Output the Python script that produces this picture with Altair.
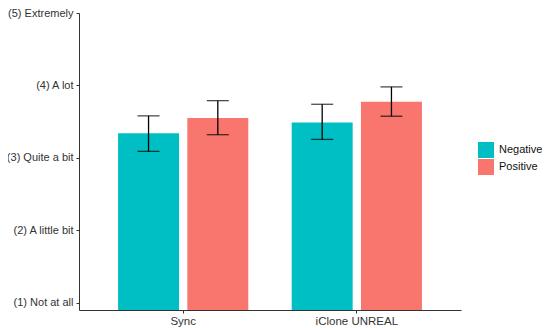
import altair as alt
import pandas as pd

conditions = ["Sync", "Sync", "iClone UNREAL", "iClone UNREAL"]
valences = ["Negative", "Positive", "Negative", "Positive"]
means = [3.34, 3.55, 3.49, 3.775]
lows = [3.09, 3.32, 3.255, 3.575]
highs = [3.58, 3.79, 3.74, 3.98]

y_ticks = [1, 2, 3, 4, 5]
y_labels = ["(1) Not at all", "(2) A little bit", "(3) Quite a bit", "(4) A lot", "(5) Extremely"]
order = ["Sync", "iClone UNREAL"]
groups = ["Negative", "Positive"]
colors = ["#00BFC4", "#F8766D"]

df = pd.DataFrame({"cond": conditions, "val": valences, "mean": means, "lo": lows, "hi": highs})

label_expr = "{" + ", ".join(f"'{t}': '{l}'" for t, l in zip(y_ticks, y_labels)) + "}[datum.value]"

x_enc = alt.X("cond:N", sort=order, title=None,
              scale=alt.Scale(paddingInner=0.25, paddingOuter=0.225),
              axis=alt.Axis(labelAngle=0, labelFontSize=11.5, labelColor="#333333",
                            labelFont="Liberation Sans", domainColor="#333333",
                            tickColor="#333333", tickSize=3, labelPadding=2))
xo_enc = alt.XOffset("val:N", sort=groups, scale=alt.Scale(paddingInner=0.12, paddingOuter=0))
y_scale = alt.Scale(domain=[0.9, 5], nice=False, zero=False)

bars = alt.Chart(df).mark_bar(clip=True).encode(
    x=x_enc,
    xOffset=xo_enc,
    y=alt.Y("mean:Q", scale=y_scale, title=None,
            axis=alt.Axis(values=y_ticks, labelExpr=label_expr, grid=False,
                          labelFontSize=11, labelColor="#333333",
                          labelFont="Liberation Sans", domainColor="#333333",
                          tickColor="#333333", tickSize=3, labelPadding=3)),
    color=alt.Color("val:N", sort=groups, scale=alt.Scale(domain=groups, range=colors),
                    legend=alt.Legend(title=None, orient="none", legendX=399, legendY=129,
                                      symbolType="square", symbolSize=256,
                                      symbolStrokeWidth=0, symbolOpacity=1,
                                      labelFontSize=11, labelFont="Liberation Sans",
                                      labelColor="#111111", labelOffset=5, rowPadding=1)),
)

rules = alt.Chart(df).mark_rule(color="black", strokeWidth=1.3).encode(
    x=alt.X("cond:N", sort=order), xOffset=xo_enc,
    y=alt.Y("lo:Q", scale=y_scale), y2="hi:Q",
)
cap_lo = alt.Chart(df).mark_tick(color="black", thickness=1.3, size=22, orient="horizontal").encode(
    x=alt.X("cond:N", sort=order), xOffset=xo_enc, y=alt.Y("lo:Q", scale=y_scale),
)
cap_hi = alt.Chart(df).mark_tick(color="black", thickness=1.3, size=22, orient="horizontal").encode(
    x=alt.X("cond:N", sort=order), xOffset=xo_enc, y=alt.Y("hi:Q", scale=y_scale),
)

chart = alt.layer(bars, rules, cap_lo, cap_hi).properties(
    width=382, height=297,
    autosize=alt.AutoSizeParams(type="none"),
    padding={"left": 71, "top": 5, "right": 81, "bottom": 18},
).configure(background="white", view=alt.ViewConfig(stroke=None))

chart.save("out.html", embed_options={"renderer": "svg", "actions": False})
